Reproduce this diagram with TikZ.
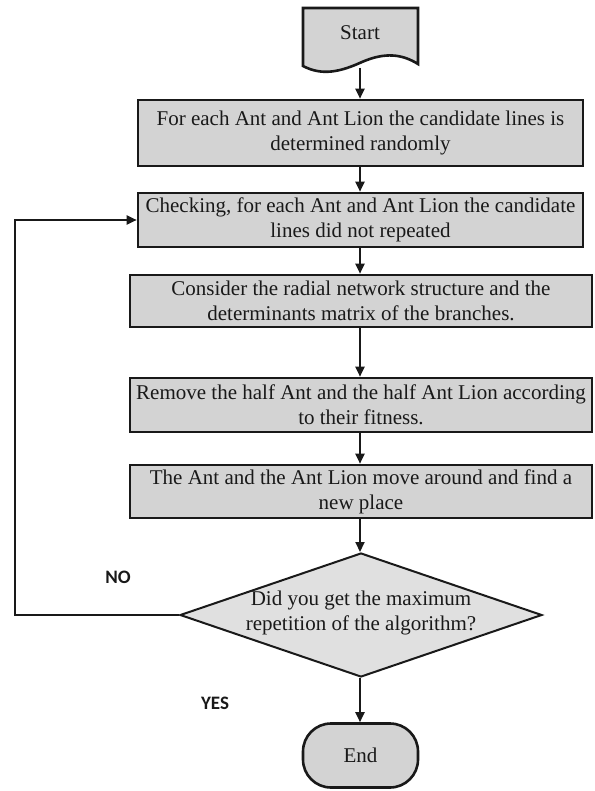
\documentclass[tikz,border=0pt]{standalone}
\usepackage{fontspec}
\setmainfont{Liberation Serif}
\newfontfamily\boxfont{Liberation Serif}
\newfontfamily\labelfont{Carlito}
\usetikzlibrary{shapes.geometric,arrows.meta}
\definecolor{boxgray}{RGB}{211,211,211}
\definecolor{diagray}{RGB}{224,224,224}
\definecolor{ink}{RGB}{25,25,25}
\begin{document}
\begin{tikzpicture}[x=1bp,y=-1bp,
  txt/.style={font=\boxfont\fontsize{21bp}{25bp}\selectfont,text=ink},
  procbox/.style={txt,draw=ink,line width=2.6bp,fill=boxgray,inner sep=0pt,align=center},
  flow/.style={draw=ink,line width=2bp,-{Triangle[length=10bp,width=9bp]}},
  yesno/.style={font=\labelfont\bfseries\fontsize{19bp}{21bp}\selectfont,text=ink}]
\useasboundingbox (0,0) rectangle (595,791);
% Start (document shape)
\filldraw[draw=ink,fill=boxgray,line width=2.6bp]
  (303,8) -- (418,8) -- (418,64)
  .. controls (402,54) and (385,52) .. (362,62)
  .. controls (340,72) and (322,76) .. (303,66) -- cycle;
\node[txt] (start) at (360,33) {Start};
\coordinate (sb) at (360,68);
% process boxes
\node[procbox,minimum width=445bp,minimum height=66bp] (b1) at (360.5,133)
  {For each Ant and Ant Lion the candidate lines is\\determined randomly};
\node[procbox,minimum width=445bp,minimum height=54bp] (b2) at (360.5,220)
  {Checking, for each Ant and Ant Lion the candidate\\lines did not repeated};
\node[procbox,minimum width=462bp,minimum height=52bp] (b3) at (361,301)
  {Consider the radial network structure and the\\determinants matrix of the branches.};
\node[procbox,minimum width=462bp,minimum height=54bp] (b4) at (361,405)
  {Remove the half Ant and the half Ant Lion according\\to their fitness.};
\node[procbox,minimum width=462bp,minimum height=53bp] (b5) at (361,491.5)
  {The Ant and the Ant Lion move around and find a\\new place};
% decision
\node[diamond,draw=ink,line width=2bp,fill=diagray,inner sep=0pt,
  minimum width=362bp,minimum height=124bp] (dec) at (361,615) {};
\node[txt,align=center] (dect) at (361,613)
  {Did you get the maximum\\repetition of the algorithm?};
% end
\node[txt,draw=ink,line width=2.6bp,fill=boxgray,rounded corners=28bp,
  minimum width=115bp,minimum height=64bp]
  (end) at (360.5,755.5) {End};
% labels
\node[yesno] (no) at (118,577) {NO};
\node[yesno] (yes) at (215,703) {YES};
% connectors
\coordinate (lb) at (15,615);
\coordinate (lt) at (15,220);
\draw[flow] (sb) -- (b1.north -| sb);
\draw[flow] (b1.south -| sb) -- (b2.north -| sb);
\draw[flow] (b2.south -| sb) -- (b3.north -| sb);
\draw[flow] (b3.south -| sb) -- (b4.north -| sb);
\draw[flow] (b4.south -| sb) -- (b5.north -| sb);
\draw[flow] (b5.south -| sb) -- (dec.north -| sb);
\draw[flow] (dec.south -| sb) -- (end.north -| sb);
\draw[flow] (dec.west) -- (lb) -- (lt) -- (b2.west);
\end{tikzpicture}
\end{document}
